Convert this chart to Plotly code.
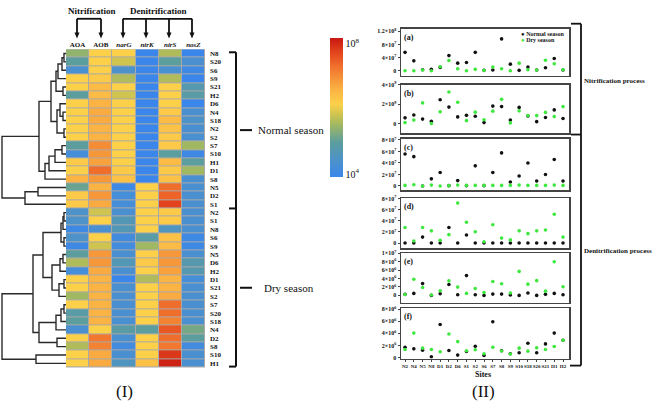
import plotly.graph_objects as go

W, H = 661, 407
def xd(px): return px / W
def yd(py): return 1 - py / H

SERIF = "Liberation Serif"

# ---------------- heatmap data (log10 gene copies) ----------------
genes = ["AOA", "AOB", "narG", "nirK", "nirS", "nosZ"]
gene_labels = ["<b>AOA</b>", "<b>AOB</b>", "<b><i>narG</i></b>", "<b><i>nirK</i></b>",
               "<b><i>nirS</i></b>", "<b><i>nosZ</i></b>"]
normal_rows = ["N8", "S20", "S6", "S9", "S21", "H2", "D6", "N4", "S18", "N2", "S2",
               "S7", "S10", "H1", "D1", "S8", "N5", "D2", "S1"]
dry_rows = ["N2", "S1", "N8", "S6", "S9", "N5", "D6", "H2", "D1", "S21", "S2",
            "S7", "S20", "S18", "N4", "D2", "S8", "S10", "H1"]
row_labels = normal_rows + dry_rows

AOA = [5.4, 5.0, 4.4, 6.1, 6.1, 5.0, 6.1, 6.1, 6.1, 6.1, 6.1, 5.0, 4.3, 6.2, 6.1, 6.5, 5.1, 6.2, 6.2,
       4.5, 4.5, 4.1, 4.5, 4.1, 5.0, 5.6, 4.3, 6.1, 6.1, 5.5, 6.1, 4.9, 5.0, 4.4, 6.1, 5.6, 6.1, 6.1]
AOB = [6.1, 6.1, 6.1, 6.2, 6.4, 6.4, 6.5, 6.6, 6.6, 6.5, 6.5, 6.9, 6.8, 6.7, 7.2, 6.8, 6.5, 6.8, 6.6,
       5.8, 6.1, 4.4, 6.1, 5.8, 6.8, 6.8, 6.6, 6.5, 6.5, 6.5, 6.5, 6.5, 6.5, 6.1, 7.1, 7.0, 6.6, 6.6]
narG = [6.1, 5.8, 4.5, 5.6, 6.1, 5.8, 6.1, 6.1, 6.1, 6.1, 6.1, 6.1, 6.1, 6.1, 6.2, 6.3, 4.1, 4.3, 4.3,
        4.4, 4.7, 4.7, 4.2, 4.2, 4.4, 4.7, 4.4, 4.0, 4.4, 4.4, 4.4, 4.4, 4.4, 4.9, 4.4, 4.2, 4.4, 4.6]
nirK = [4.0, 4.0, 4.0, 4.0, 4.0, 4.0, 4.0, 4.0, 4.0, 4.0, 4.0, 4.0, 4.0, 4.0, 4.0, 4.0, 6.1, 6.1, 6.1,
        6.1, 6.1, 6.1, 4.9, 5.5, 6.1, 6.2, 6.1, 5.6, 6.1, 6.1, 6.1, 6.1, 6.1, 5.0, 6.1, 6.1, 6.1, 6.3]
nirS = [5.6, 5.0, 4.4, 5.6, 6.1, 6.1, 6.1, 6.2, 6.4, 6.3, 6.2, 6.2, 5.0, 6.4, 6.2, 6.3, 7.2, 7.3, 7.6,
        6.2, 6.2, 4.6, 6.3, 6.4, 6.8, 6.8, 6.7, 6.5, 6.5, 6.6, 7.2, 7.2, 7.0, 7.4, 7.2, 7.1, 7.7, 7.9]
nosZ = [4.0, 4.4, 4.1, 4.0, 4.8, 4.9, 4.0, 4.4, 4.5, 4.4, 4.4, 5.5, 4.1, 5.0, 5.5, 4.4, 4.4, 4.4, 4.4,
        4.4, 4.4, 4.4, 4.1, 4.1, 4.4, 4.8, 4.8, 4.3, 4.4, 4.4, 4.4, 4.4, 4.4, 5.2, 5.0, 4.2, 4.4, 4.4]

# dendrogram: (height, left, right); leaves are row indices
normal_tree = (64,
    (27,
        (15,
            (10, (8, (4, (2, 0, 1), 2), 3), (3, 4, 5)),
            (9, (6, 6, (3, 7, 8)), (2, 9, 10))),
        (21, (17, (11, (4, 11, 12), 13), 14), 15)),
    (41, (28, 16, 17), 18))
dry_tree = (64,
    (33,
        (23,
            (5, (3, (2, 19, 20), 21), (2, 22, 23)),
            (14, (6, (3, 24, 25), 26), (7, (2, 27, 28), 29))),
        (27, (10, (5, (2, 30, 31), 32), 33), (9, 34, 35))),
    (30, 36, 37))

# ---------------- scatter data ----------------
sites = ["N2", "N4", "N5", "N8", "D1", "D2", "D6", "S1", "S2", "S6", "S7", "S8", "S9",
         "S10", "S18", "S20", "S21", "H1", "H2"]
a_normal = [5.6e7, 3.0e7, 0.3e7, 0.4e7, 1.0e7, 4.6e7, 2.3e7, 2.5e7, 5.6e7, 0.1e7, 0.2e7, 9.7e7, 2.0e7,
            0.1e7, 1.1e7, 0.2e7, 0.9e7, 3.7e7, 0.2e7]
a_dry = [0.0, 0.0, 0.2e7, 0.0, 1.2e7, 3.1e7, 0.6e7, 0.0, 0.4e7, 0.1e7, 1.1e7, 0.6e7, 0.0,
         2.3e7, 0.3e7, 0.2e7, 3.2e7, 2.1e7, 0.3e7]
b_normal = [0.59e9, 0.89e9, 0.46e9, 0.23e9, 2.46e9, 1.7e9, 0.69e9, 0.85e9, 0.75e9, 0.1e9, 1.8e9, 1.75e9,
            0.36e9, 1.67e9, 0.79e9, 0.2e9, 0.62e9, 1.41e9, 0.52e9]
b_dry = [0.1e9, 0.36e9, 2.13e9, 0.0, 1.21e9, 3.25e9, 2.2e9, 0.3e9, 1.18e9, 0.39e9, 1.28e9, 2.5e9,
         0.07e9, 1.31e9, 0.82e9, 0.82e9, 1.15e9, 0.72e9, 1.75e9]
c_normal = [5.57e7, 5.1e7, 0.0, 1.24e7, 2.35e7, 0.05e7, 0.93e7, 0.05e7, 3.5e7, 0.05e7, 2.35e7, 5.75e7,
            0.68e7, 1.73e7, 4.0e7, 0.87e7, 1.98e7, 4.6e7, 0.87e7]
c_dry = [0.1e7, 0.2e7, 0.0, 0.15e7, 0.0, 0.05e7, 0.15e7, 0.1e7, 0.1e7, 0.1e7, 0.1e7, 0.1e7, 0.1e7,
         0.15e7, 0.1e7, 0.1e7, 0.1e7, 0.15e7, 0.1e7]
d_normal = [0.0, 0.0, 1.08e7, 0.0, 0.0, 2.8e7, 0.0, 1.46e7, 0.0, 0.0, 0.0, 0.0, 0.0, 0.0, 0.0, 0.0,
            0.0, 0.0, 0.0]
d_dry = [2.8e7, 0.38e7, 2.8e7, 2.2e7, 0.5e7, 1.52e7, 7.2e7, 3.75e7, 2.03e7, 0.25e7, 3.3e7, 0.9e7,
         0.57e7, 2.2e7, 1.7e7, 2.2e7, 2.35e7, 5.2e7, 1.08e7]
e_normal = [0.24e6, 0.47e6, 2.8e6, 0.0, 0.4e6, 2.6e6, 0.16e6, 4.7e6, 0.16e6, 0.0, 0.3e6, 0.3e6, 0.08e6,
            0.0, 0.55e6, 0.0, 0.24e6, 0.47e6, 0.16e6]
e_dry = [0.2e6, 3.84e6, 1.88e6, 0.1e6, 1.1e6, 3.45e6, 1.96e6, 0.47e6, 1.65e6, 0.7e6, 3.3e6, 2.75e6,
         0.55e6, 5.7e6, 2.67e6, 3.5e6, 1.0e6, 8.0e6, 2.04e6]
f_normal = [1.73e6, 1.46e6, 1.24e6, 0.16e6, 5.46e6, 1.19e6, 0.43e6, 1.03e6, 1.89e6, 0.38e6, 5.9e6,
            1.14e6, 0.65e6, 0.81e6, 2.38e6, 0.81e6, 2.27e6, 4.05e6, 2.86e6]
f_dry = [1.35e6, 4.05e6, 1.57e6, 1.35e6, 0.97e6, 3.9e6, 2.65e6, 1.14e6, 1.3e6, 0.65e6, 1.73e6, 1.1e6,
         0.6e6, 1.57e6, 1.08e6, 1.62e6, 1.35e6, 1.84e6, 2.86e6]

panels = [
    ("(a)", a_normal, a_dry, [0, 4e7, 8e7, 1.2e8],
     ["0", "4×10<sup>7</sup>", "8×10<sup>7</sup>", "1.2×10<sup>8</sup>"], (25, 73), (-1.6e7, 1.284e8)),
    ("(b)", b_normal, b_dry, [0, 2e9, 4e9],
     ["0", "2×10<sup>9</sup>", "4×10<sup>9</sup>"], (82, 131), (-0.98e9, 4.0e9)),
    ("(c)", c_normal, c_dry, [0, 2e7, 4e7, 6e7, 8e7],
     ["0", "2×10<sup>7</sup>", "4×10<sup>7</sup>", "6×10<sup>7</sup>", "8×10<sup>7</sup>"], (137, 189), (-0.74e7, 8.17e7)),
    ("(d)", d_normal, d_dry, [0, 2e7, 4e7, 6e7, 8e7],
     ["0", "2×10<sup>7</sup>", "4×10<sup>7</sup>", "6×10<sup>7</sup>", "8×10<sup>7</sup>"], (197, 248), (-0.95e7, 8.1e7)),
    ("(e)", e_normal, e_dry, [0, 2e6, 4e6, 6e6, 8e6, 1e7],
     ["0", "2×10<sup>6</sup>", "4×10<sup>6</sup>", "6×10<sup>6</sup>", "8×10<sup>6</sup>", "1×10<sup>7</sup>"], (253, 303), (-1.7e6, 10.0e6)),
    ("(f)", f_normal, f_dry, [0, 2e6, 4e6, 6e6, 8e6],
     ["0", "2×10<sup>6</sup>", "4×10<sup>6</sup>", "6×10<sup>6</sup>", "8×10<sup>6</sup>"], (309, 360), (-0.16e6, 8.1e6)),
]

colorscale = [[0, "#3a86ea"], [0.1, "#4a90d0"], [0.25, "#5c9e9e"], [0.375, "#a0b862"],
              [0.45, "#cfc450"], [0.525, "#fdd04a"], [0.625, "#fbb443"], [0.7, "#f6973a"],
              [0.8, "#f06e2c"], [0.9, "#e2421c"], [1, "#c81812"]]

GREEN = "#3ee83e"
fig = go.Figure()

# ---------------- heatmap ----------------
cols = [AOA, AOB, narG, nirK, nirS, nosZ]
z = [[cols[c][r] for c in range(6)] for r in range(len(row_labels))]
fig.add_trace(go.Heatmap(
    z=z, x=list(range(6)), y=list(range(len(row_labels))),
    colorscale=colorscale, zmin=4, zmax=8, xgap=1, ygap=1,
    hoverinfo="skip", xaxis="x", yaxis="y",
    colorbar=dict(x=xd(330), xanchor="left", y=yd(35), yanchor="top",
                  len=(176 - 35) / H, lenmode="fraction", thickness=13,
                  xpad=0, ypad=0,
                  outlinewidth=0, tickvals=[4.1, 7.85],
                  ticktext=["10<sup>4</sup>", "10<sup>8</sup>"], ticks="",
                  tickfont=dict(family=SERIF, size=10, color="#111")),
))

# ---------------- dendrogram ----------------
dx, dy = [], []
def walk(node):
    if isinstance(node, int):
        return 0.0, float(node)
    h, l, r = node
    hl, yl = walk(l)
    hr, yr = walk(r)
    dx.extend([hl, h, h, hr, None])
    dy.extend([yl, yl, yr, yr, None])
    return h, (yl + yr) / 2
walk(normal_tree)
walk(dry_tree)
fig.add_trace(go.Scatter(x=dx, y=dy, mode="lines", line=dict(color="#2a2a2a", width=1.4),
                         hoverinfo="skip", showlegend=False, xaxis="x2", yaxis="y2"))

nrows = len(row_labels)
layout = dict(
    width=W, height=H, margin=dict(l=0, r=0, t=0, b=0),
    paper_bgcolor="white", plot_bgcolor="white",
    font=dict(family=SERIF, color="#111"),
    hovermode=False,
    xaxis=dict(domain=[xd(66), xd(205)], range=[-0.5, 5.5], side="top",
               tickvals=list(range(6)), ticktext=gene_labels, ticks="", showgrid=False,
               zeroline=False, tickfont=dict(family=SERIF, size=7, color="#111"),
               ticklabelstandoff=0, fixedrange=True),
    yaxis=dict(domain=[yd(369), yd(46)], range=[nrows - 0.5, -0.5], side="right",
               tickvals=list(range(nrows)), ticktext=["<b>%s</b>" % s for s in row_labels],
               ticks="", showgrid=False, zeroline=False,
               tickfont=dict(family=SERIF, size=7, color="#111"), ticklabelstandoff=4),
    xaxis2=dict(domain=[0, xd(66)], range=[66, 0], visible=False, anchor="y2"),
    yaxis2=dict(domain=[yd(369), yd(46)], range=[nrows - 0.5, -0.5], visible=False, anchor="x2"),
    showlegend=False,
)

annotations = []
for i, (lab, yn, ydry, tv, tt, (top, bot), yr) in enumerate(panels):
    k = i + 3
    xa, ya = "x%d" % k, "y%d" % k
    fig.add_trace(go.Scatter(x=sites, y=yn, mode="markers", name="Normal season",
                             marker=dict(color="#111111", size=3.6), xaxis=xa, yaxis=ya,
                             hoverinfo="skip"))
    fig.add_trace(go.Scatter(x=sites, y=ydry, mode="markers", name="Dry season",
                             marker=dict(color=GREEN, size=3.6), xaxis=xa, yaxis=ya,
                             hoverinfo="skip"))
    layout["xaxis%d" % k] = dict(
        domain=[xd(401), xd(569)], range=[-0.46, 18.68], anchor=ya, type="category",
        showline=True, mirror=True, linecolor="#444", linewidth=1.5, showgrid=False,
        zeroline=False, ticks="outside" if i == 5 else "", ticklen=2,
        showticklabels=(i == 5), tickangle=0,
        tickvals=sites, ticktext=["<b>%s</b>" % s for s in sites],
        tickfont=dict(family=SERIF, size=5, color="#111"))
    layout["yaxis%d" % k] = dict(
        domain=[yd(bot), yd(top)], range=list(yr), anchor=xa,
        showline=True, mirror=True, linecolor="#444", linewidth=1.5, showgrid=False,
        zeroline=False, ticks="outside", ticklen=2, tickvals=tv,
        ticktext=["<b>%s</b>" % t for t in tt],
        tickfont=dict(family=SERIF, size=6, color="#111"))
    annotations.append(dict(xref="paper", yref="paper", x=xd(402), y=yd(top + 2),
                            xanchor="left", yanchor="top", showarrow=False,
                            text="<b>%s</b>" % lab,
                            font=dict(family=SERIF, size=8, color="#111")))

fig.update_layout(**layout)

def txt(x, y, s, size, xanchor="center", bold=False):
    annotations.append(dict(xref="paper", yref="paper", x=xd(x), y=yd(y), text=("<b>%s</b>" % s) if bold else s,
                            xanchor=xanchor, yanchor="middle", showarrow=False,
                            font=dict(family=SERIF, size=size, color="#111")))

txt(92, 7, "Nitrification", 9, bold=True)
txt(158, 7, "Denitrification", 9, bold=True)
txt(256, 128, "Normal season", 11, xanchor="left")
txt(262, 288, "Dry season", 11, xanchor="left")
txt(125, 393, "(I)", 17)
txt(483, 393, "(II)", 17)
txt(483, 376, "Sites", 8, bold=True)
txt(582, 78, "Nitrification process", 7, xanchor="left", bold=True)
txt(582, 251, "Denitrification process", 7, xanchor="left", bold=True)
# legend of panel (a)
txt(519, 30, "<span style='color:#111'>●</span> <b>Normal season</b>", 6, xanchor="left")
txt(519, 37, "<span style='color:%s'>●</span> <b>Dry season</b>" % GREEN, 6, xanchor="left")
fig.update_layout(annotations=annotations)

shapes = []
def line(x0, y0, x1, y1, w=1.8, color="#111"):
    shapes.append(dict(type="line", xref="paper", yref="paper", x0=xd(x0), y0=yd(y0),
                       x1=xd(x1), y1=yd(y1), line=dict(color=color, width=w)))

# gray cell borders under heatmap
shapes.append(dict(type="rect", xref="x domain", yref="y domain", x0=0, x1=1, y0=0, y1=1,
                   fillcolor="#a9a9a9", line=dict(width=0), layer="below"))

# nitrification / denitrification arrows at top
line(77, 15, 101, 15); line(77, 15, 77, 30); line(101, 15, 101, 30)
line(123, 15, 192, 15)
for xx in (123, 146, 169, 192):
    line(xx, 15, xx, 30)
for xx in (77, 101, 123, 146, 169, 192):
    shapes.append(dict(type="path", xref="paper", yref="paper",
                       path="M %f %f L %f %f L %f %f Z" % (xd(xx - 2.5), yd(29), xd(xx + 2.5), yd(29), xd(xx), yd(35)),
                       fillcolor="#111", line=dict(width=0)))

# season bracket beside heatmap
line(236, 49, 236, 368, w=2)
line(229, 49, 236, 49, w=2); line(229, 368, 236, 368, w=2); line(229, 207.5, 236, 207.5, w=2)
line(240, 128, 252, 128, w=2); line(240, 288, 252, 288, w=2)

# process brackets on the right
line(581, 20, 581, 367, w=1.8)
line(571, 20, 581, 20); line(571, 132.5, 581, 132.5); line(570, 367, 581, 367)

fig.update_layout(shapes=shapes)
fig.write_html("out.html", config={"displayModeBar": False, "staticPlot": True},
               post_script="document.body.style.margin='0px';")
